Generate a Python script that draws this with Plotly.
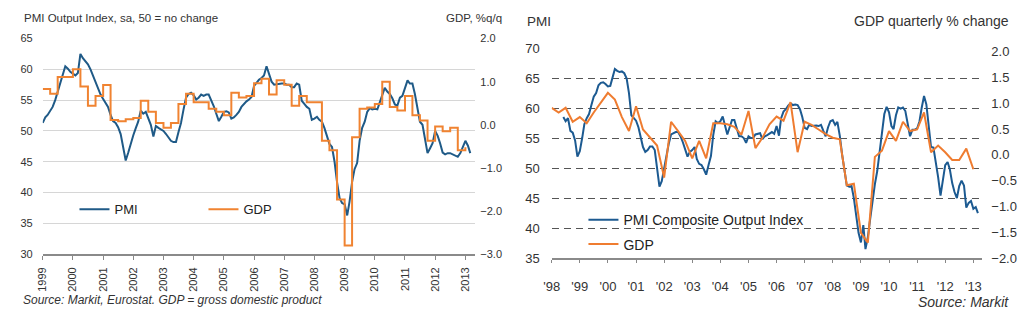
import pandas as pd
import plotly.graph_objects as go

# ---------------- data: left panel ----------------
pmi_left = [
    51.3, 52.2, 52.6, 53.2, 53.9, 55.0, 56.3, 57.8, 59.0, 60.5, 60.1, 59.6,   # 1999
    59.3, 59.0, 59.4, 62.5, 61.8, 61.3, 60.8, 60.0, 59.0, 58.0, 56.8, 55.9,   # 2000
    55.2, 54.5, 53.9, 52.6, 51.6, 51.3, 50.6, 49.5, 47.3, 45.2, 46.5, 48.0,   # 2001
    49.3, 50.5, 51.5, 53.3, 52.8, 53.1, 52.0, 51.0, 49.1, 50.8, 50.5, 50.2,   # 2002
    50.0, 49.5, 48.9, 48.4, 48.2, 48.2, 49.8, 51.3, 53.5, 55.4, 56.0, 56.2,   # 2003
    55.8, 55.1, 55.4, 55.9, 55.7, 55.9, 55.9, 55.0, 54.0, 52.8, 51.6, 52.3,   # 2004
    53.1, 53.2, 53.0, 52.0, 52.2, 52.6, 53.1, 53.9, 54.4, 54.8, 55.1, 55.5,   # 2005
    57.3, 57.9, 58.3, 58.6, 59.0, 60.5, 59.2, 58.0, 57.5, 57.6, 57.7, 57.7,   # 2006
    57.7, 57.5, 57.5, 57.1, 57.1, 57.7, 57.5, 54.9, 54.4, 53.9, 53.6, 51.8,   # 2007
    52.0, 52.3, 51.8, 51.5, 50.5, 49.0, 47.9, 47.4, 45.0, 41.7, 39.1, 38.3,   # 2008
    38.1, 36.3, 38.5, 41.7, 43.8, 44.8, 48.4, 50.5, 51.5, 53.1, 53.7, 53.5,   # 2009
    53.6, 53.5, 54.6, 56.0, 57.0, 56.4, 56.0, 55.3, 54.3, 54.1, 55.4, 55.7,   # 2010
    56.8, 58.2, 57.7, 57.7, 56.0, 53.5, 51.5, 51.0, 48.5, 46.4, 47.2, 48.0,   # 2011
    50.0, 49.2, 48.0, 46.5, 46.2, 46.4, 46.4, 46.2, 46.0, 45.8, 46.4, 47.5,   # 2012
    48.4, 47.6, 46.4,                                                         # 2013
]
gdp_left = [
    0.83, 0.72, 1.11, 1.11,
    1.29, 0.89, 0.44, 0.67,
    0.92, 0.11, 0.08, 0.13,
    0.16, 0.56, 0.30, 0.04,
    -0.07, 0.04, 0.48, 0.72,
    0.52, 0.52, 0.37, 0.30,
    0.22, 0.74, 0.63, 0.67,
    0.96, 1.07, 0.70, 1.03,
    0.93, 0.44, 0.67, 0.52,
    0.52, -0.37, -0.59, -1.73,
    -2.80, -0.29, 0.37, 0.40,
    0.48, 1.00, 0.41, 0.33,
    0.67, 0.22, 0.10, -0.37,
    -0.04, -0.15, -0.07, -0.59,
    -0.52,
]
left_tick_labels = ["1999", "2000", "2001", "2002", "2003", "2004", "2005", "2006",
                    "2007", "2008", "2009", "2010", "2011", "2012", "2013"]

# ---------------- data: right panel ----------------
pmi_right = [
    58.5, 57.8, 58.3, 56.2, 55.9, 54.6, 51.9,                                 # 1998 Jun-Dec
    52.8, 55.0, 57.3, 58.3, 59.0, 60.5, 61.9, 62.5, 63.8, 64.2, 64.3, 64.0,   # 1999
    63.6, 63.7, 65.0, 66.5, 66.2, 66.0, 66.1, 65.8, 64.9, 62.5, 58.8, 58.3,   # 2000
    57.9, 56.8, 55.0, 53.5, 52.7, 53.0, 53.6, 53.6, 53.0, 49.5, 46.9, 47.8,   # 2001
    50.2, 52.5, 54.0, 55.6, 55.8, 56.0, 56.0, 55.3, 54.3, 53.0, 51.9, 52.7,   # 2002
    53.0, 53.5, 51.5, 50.7, 50.5, 49.8, 48.9, 50.5, 52.0, 55.5, 57.8, 57.5,   # 2003
    57.8, 58.6, 57.0, 55.6, 56.8, 58.0, 58.0, 56.6, 55.3, 55.3, 55.0, 54.2,   # 2004
    55.3, 55.0, 55.0, 55.6, 55.7, 55.8, 54.8, 55.3, 55.5, 55.7, 56.0, 55.7,   # 2005
    57.0, 55.4, 58.3, 59.4, 59.8, 60.4, 60.8, 60.5, 60.6, 60.5, 59.8, 58.5,   # 2006
    56.7, 56.5, 57.2, 57.0, 57.1, 57.1, 57.0, 57.2, 56.2, 55.3, 56.8, 57.8,   # 2007
    58.0, 57.2, 57.7, 55.4, 52.3, 49.5, 47.1, 46.9, 47.0, 45.0, 42.3, 39.2,   # 2008
    37.6, 40.5, 36.5, 38.5, 41.5, 45.0, 47.3, 49.5, 52.5, 55.5, 59.0, 60.2,   # 2009
    59.3, 57.0, 56.5, 58.8, 60.1, 59.9, 60.1, 59.5, 57.5, 55.3, 56.4, 56.4,   # 2010
    56.6, 57.8, 60.0, 62.0, 60.6, 57.4, 53.5, 53.4, 51.0, 48.5, 45.4, 48.2,   # 2011
    50.5, 51.0, 49.8, 47.5, 46.0, 45.0, 47.0, 47.9, 47.1, 43.4, 44.2, 44.5,   # 2012
    43.2, 43.5, 42.5,                                                         # 2013
]
gdp_right = [
    0.91, 0.82, 0.91, 0.64,
    0.73, 0.61, 0.82, 1.00,
    1.20, 1.07, 0.73, 0.46,
    0.94, 0.49, 0.33, 0.18,
    -0.44, 0.64, 0.46, 0.27,
    -0.07, 0.27, -0.07, 0.61,
    0.61, 0.59, 0.54, 0.39,
    0.85, 0.13, 0.33, 0.59,
    0.74, 0.66, 1.02, 0.05,
    0.64, 0.58, 0.49, 0.40,
    0.33, 0.30, -0.59, -0.56,
    -1.51, -1.70, -0.04, 0.08,
    0.46, 0.27, 0.64, 0.46,
    0.49, 0.82, 0.05, 0.18,
    0.05, -0.10, -0.10, 0.12,
    -0.28,
]
right_tick_labels = ["'98", "'99", "'00", "'01", "'02", "'03", "'04", "'05",
                     "'06", "'07", "'08", "'09", "'10", "'11", "'12", "'13"]

left_pmi_dates = pd.date_range("1999-01-01", periods=len(pmi_left), freq="MS")
left_gdp_dates = pd.date_range("1999-01-01", periods=len(gdp_left), freq="QS")
right_pmi_dates = pd.date_range("1998-06-01", periods=len(pmi_right), freq="MS")
right_gdp_dates = pd.date_range("1998-01-01", periods=len(gdp_right), freq="QS")
left_ticks = pd.date_range("1999-01-01", periods=len(left_tick_labels), freq="YS")
right_ticks = pd.date_range("1998-01-01", periods=len(right_tick_labels), freq="YS")

# ---------------- styling ----------------
W, H = 1020, 330
FONT = "Liberation Sans, Arial, sans-serif"
BLUE_L, ORANGE_L = "#1f5a87", "#f08331"
BLUE_R, ORANGE_R = "#1c5a91", "#ef7c30"
TXT = "#333333"

def fx(p):
    return p / W

def fy(p):
    return 1 - p / H

fig = go.Figure()

fig.add_trace(go.Scatter(x=left_pmi_dates, y=pmi_left, name="PMI", mode="lines",
                         line=dict(color=BLUE_L, width=2), xaxis="x", yaxis="y",
                         legend="legend"))
fig.add_trace(go.Scatter(x=left_gdp_dates, y=gdp_left, name="GDP", mode="lines",
                         line=dict(color=ORANGE_L, width=2, shape="hv"),
                         xaxis="x", yaxis="y2", legend="legend"))
fig.add_trace(go.Scatter(x=right_pmi_dates, y=pmi_right, name="PMI Composite Output Index",
                         mode="lines", line=dict(color=BLUE_R, width=2),
                         xaxis="x2", yaxis="y3", legend="legend2", legendgroup="a"))
fig.add_trace(go.Scatter(x=right_gdp_dates, y=gdp_right, name="GDP", mode="lines",
                         line=dict(color=ORANGE_R, width=2),
                         xaxis="x2", yaxis="y4", legend="legend2", legendgroup="b"))

tickfont_l = dict(family=FONT, size=11, color=TXT)
tickfont_r = dict(family=FONT, size=13, color=TXT)

fig.update_layout(
    width=W, height=H,
    margin=dict(l=0, r=0, t=0, b=0),
    paper_bgcolor="white", plot_bgcolor="rgba(0,0,0,0)",
    font=dict(family=FONT, color=TXT),
    xaxis=dict(domain=[fx(35), fx(471)], type="date",
               range=["1999-01-01", "2013-05-01"], anchor="y",
               tickvals=left_ticks, ticktext=left_tick_labels, tickangle=-90,
               ticks="outside", ticklen=4, tickcolor="#888888",
               showline=True, linecolor="#8a8a8a", linewidth=1.5,
               showgrid=False, zeroline=False, tickfont=tickfont_l,
               ticklabelstandoff=3),
    yaxis=dict(domain=[fy(259), fy(33)], range=[30, 65], dtick=5, tick0=30,
               anchor="x", showgrid=True, gridcolor="#d6d6d6", gridwidth=1,
               zeroline=False, ticks="", tickfont=tickfont_l, ticklabelstandoff=9),
    yaxis2=dict(overlaying="y", side="right", anchor="x", range=[-3, 2], dtick=1,
                tick0=-3, tickformat=".1f", showgrid=False, zeroline=False,
                ticks="", tickfont=tickfont_l, ticklabelstandoff=4),
    xaxis2=dict(domain=[fx(548), fx(982)], type="date",
                range=["1998-01-01", "2013-04-27"], anchor="y3",
                tickvals=right_ticks, ticktext=right_tick_labels, tickangle=0,
                ticks="outside", ticklen=3, tickcolor="#888888",
                showline=True, linecolor="#8a8a8a", linewidth=1.5,
                showgrid=False, zeroline=False, tickfont=tickfont_r,
                ticklabelstandoff=13),
    yaxis3=dict(domain=[fy(263), fy(43)], range=[35, 70], dtick=5, tick0=35,
                anchor="x2", showgrid=True, gridcolor="#555555", gridwidth=1,
                griddash="7px,5px", zeroline=False, ticks="",
                tickfont=tickfont_r, ticklabelstandoff=11),
    yaxis4=dict(overlaying="y3", side="right", anchor="x2", range=[-2, 2.068],
                tickvals=[-2, -1.5, -1, -0.5, 0, 0.5, 1, 1.5, 2], tickformat=".1f",
                showgrid=False, zeroline=False, ticks="", tickfont=tickfont_r,
                ticklabelstandoff=8),
    legend=dict(orientation="h", x=fx(67), y=fy(212), xanchor="left", yanchor="middle",
                bgcolor="rgba(0,0,0,0)", font=dict(family=FONT, size=13, color="#222222"),
                entrywidth=84, entrywidthmode="pixels"),
    legend2=dict(orientation="v", x=fx(580), y=fy(236), xanchor="left", yanchor="middle",
                 bgcolor="rgba(0,0,0,0)", font=dict(family=FONT, size=14, color="#222222"),
                 tracegroupgap=3),
    showlegend=True,
)

# white backing behind the right-hand legend (hides the dashed grid there)
fig.add_shape(type="rect", xref="paper", yref="paper",
              x0=fx(563), x1=fx(827), y0=fy(258), y1=fy(208),
              fillcolor="white", line=dict(width=0), layer="between")

ann = [
    dict(text="PMI Output Index, sa, 50 = no change", x=fx(14), y=fy(12),
         xanchor="left", size=11.5, italic=False),
    dict(text="GDP, %q/q", x=fx(500), y=fy(12), xanchor="right", size=11.5, italic=False),
    dict(text="Source: Markit, Eurostat. GDP = gross domestic product", x=fx(13),
         y=fy(307), xanchor="left", size=12, italic=True),
    dict(text="PMI", x=fx(521), y=fy(15), xanchor="left", size=13.5, italic=False),
    dict(text="GDP quarterly % change", x=fx(1011), y=fy(15), xanchor="right",
         size=14, italic=False),
    dict(text="Source: Markit", x=fx(1011), y=fy(309), xanchor="right", size=14,
         italic=True),
]
for a in ann:
    txt = "<i>%s</i>" % a["text"] if a["italic"] else a["text"]
    fig.add_annotation(text=txt, x=a["x"], y=a["y"], xref="paper", yref="paper",
                       xanchor=a["xanchor"], yanchor="middle", showarrow=False,
                       font=dict(family=FONT, size=a["size"], color=TXT))

fig.write_html("out.html")
